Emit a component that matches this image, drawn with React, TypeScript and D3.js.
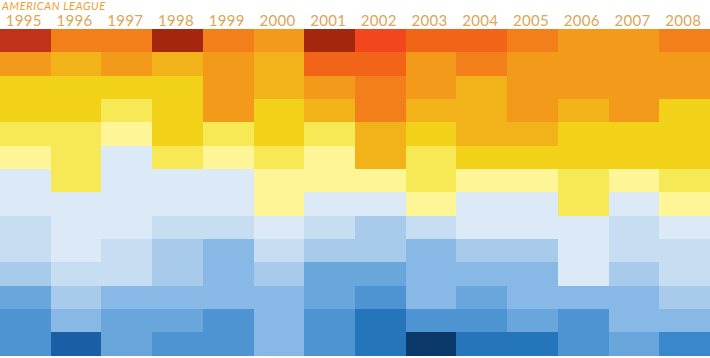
import React, { useEffect, useRef } from "react";
import * as d3 from "d3";

const years = [1995, 1996, 1997, 1998, 1999, 2000, 2001, 2002, 2003, 2004, 2005, 2006, 2007, 2008];

// colour level of each ranked team (row 0 = best), per season
const levels1995 = [1, 5, 7, 7, 8, 9, 10, 10, 11, 11, 12, 14, 15, 15];
const levels1996 = [4, 6, 7, 7, 8, 8, 8, 10, 10, 10, 11, 12, 13, 18];
const levels1997 = [4, 5, 7, 8, 9, 10, 10, 10, 10, 11, 11, 13, 14, 14];
const levels1998 = [0, 6, 7, 7, 7, 8, 10, 10, 11, 12, 12, 13, 14, 15];
const levels1999 = [4, 5, 5, 5, 8, 9, 10, 10, 11, 13, 13, 13, 15, 15];
const levels2000 = [5, 6, 6, 7, 7, 8, 9, 9, 10, 11, 12, 13, 13, 13];
const levels2001 = [0, 3, 5, 6, 8, 9, 9, 10, 11, 12, 14, 14, 15, 15];
const levels2002 = [2, 3, 4, 4, 6, 6, 9, 10, 12, 12, 14, 15, 17, 17];
const levels2003 = [3, 5, 5, 6, 7, 8, 8, 9, 11, 13, 13, 13, 15, 19];
const levels2004 = [3, 4, 6, 6, 6, 7, 9, 10, 10, 12, 13, 14, 15, 17];
const levels2005 = [4, 5, 5, 5, 6, 7, 9, 10, 10, 12, 13, 13, 14, 17];
const levels2006 = [5, 5, 5, 6, 7, 7, 8, 8, 10, 10, 10, 13, 15, 15];
const levels2007 = [5, 5, 5, 5, 7, 7, 9, 10, 11, 11, 12, 13, 13, 14];
const levels2008 = [4, 5, 5, 7, 7, 7, 8, 9, 10, 11, 11, 12, 13, 16];

const seasons = [
  levels1995, levels1996, levels1997, levels1998, levels1999, levels2000, levels2001,
  levels2002, levels2003, levels2004, levels2005, levels2006, levels2007, levels2008,
];

const palette = [
  "#a3260d", "#c0321a", "#f2461c", "#f26418", "#f27f1a", "#f39a1a", "#f2b21a",
  "#f2d218", "#f7e955", "#fdf596", "#dce9f6", "#c6ddf2", "#a8cbec", "#88b9e6",
  "#68a6dc", "#4f94d2", "#3a87cb", "#2575bb", "#1a5ea6", "#0b3a6a",
];

const W = 710;
const H = 358;

export default function App() {
  const ref = useRef<SVGSVGElement>(null);

  useEffect(() => {
    const svg = d3.select(ref.current);
    svg.selectAll("*").remove();

    const x = d3.scaleBand<number>().domain(years).range([0, W]).paddingInner(0);
    const rows = d3.range(14);
    const y = d3.scaleBand<number>().domain(rows).range([29, 355.7]).paddingInner(0);
    const color = d3.scaleOrdinal<number, string>().domain(d3.range(palette.length)).range(palette);

    const cells = years.flatMap((yr, i) =>
      seasons[i].map((lv, r) => ({ yr, r, lv }))
    );

    svg
      .append("g")
      .selectAll("rect")
      .data(cells)
      .join("rect")
      .attr("x", (d) => x(d.yr)!)
      .attr("y", (d) => y(d.r)!)
      .attr("width", x.bandwidth() + 0.5)
      .attr("height", y.bandwidth() + 0.5)
      .attr("fill", (d) => color(d.lv))
      .attr("shape-rendering", "crispEdges");

    svg
      .append("g")
      .selectAll("text")
      .data(years)
      .join("text")
      .attr("x", (d) => x(d)! + x.bandwidth() / 2 - 1.5)
      .attr("y", 26)
      .attr("text-anchor", "middle")
      .attr("font-family", "Lato, 'Open Sans', sans-serif")
      .attr("font-size", 15)
      .attr("letter-spacing", 0.3)
      .attr("fill", "#dba656")
      .text((d) => String(d));

    svg
      .append("text")
      .attr("x", 2)
      .attr("y", 10)
      .attr("font-family", "Lato, 'Open Sans', sans-serif")
      .attr("font-style", "italic")
      .attr("font-size", 11)
      .attr("letter-spacing", 0.6)
      .attr("fill", "#ee9d33")
      .text("AMERICAN LEAGUE");
  }, []);

  return (
    <svg
      ref={ref}
      width={W}
      height={H}
      style={{ position: "absolute", left: 0, top: 0, background: "#ffffff" }}
    />
  );
}
